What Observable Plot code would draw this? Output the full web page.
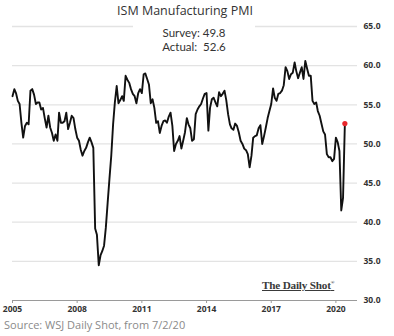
<!DOCTYPE html>
<html><head><meta charset="utf-8">
<script src="https://cdn.jsdelivr.net/npm/d3@7"></script>
<script src="https://cdn.jsdelivr.net/npm/@observablehq/plot@0.6"></script>
<style>
body{margin:0;background:#fff;}
#wrap{position:relative;width:394px;height:336px;font-family:"Open Sans",sans-serif;overflow:hidden;}
#note{position:absolute;left:133px;top:23px;width:122px;padding-top:3px;padding-bottom:2px;background:#fff;text-align:center;font-family:Lato,"Open Sans",sans-serif;font-size:11.5px;line-height:13.5px;color:#333;}
#logo{position:absolute;left:262px;top:279px;font-family:"Liberation Serif",serif;font-weight:bold;font-size:11.2px;color:#3a3a3a;text-decoration:underline;letter-spacing:-0.2px;}
#logo sup{font-size:5px;}
#source{position:absolute;left:4px;top:317px;font-size:11px;color:#8a8a8a;white-space:nowrap;}
</style></head><body>
<div id="wrap"><div id="chart"></div>
<div id="note">Survey: 49.8<br>Actual:&nbsp; 52.6</div>
<div id="logo">The Daily Shot<sup>®</sup></div>
<div id="source">Source: WSJ Daily Shot, from 7/2/20</div>
</div>
<script>
const title = "ISM Manufacturing PMI";
const years = [2005,2006,2007,2008,2009,2010,2011,2012,2013,2014,2015,2016,2017,2018,2019,2020];
const pmi2005 = [56.1,57.0,56.5,55.5,55.1,52.7,50.8,52.3,52.7,52.5,56.8,57.0];
const pmi2006 = [56.3,55.1,55.3,55.3,54.4,54.6,53.3,52.1,53.6,52.1,51.4,50.4];
const pmi2007 = [51.2,50.4,54.0,52.7,52.7,52.9,54.0,51.9,52.7,53.6,53.3,51.9];
const pmi2008 = [50.8,50.4,49.3,48.5,49.1,49.5,50.2,50.8,50.2,49.5,39.2,38.4];
const pmi2009 = [34.5,35.8,36.3,37.0,39.3,42.5,45.5,48.5,52.5,55.3,57.4,55.2];
const pmi2010 = [55.6,56.1,55.5,58.7,58.2,57.8,57.0,56.4,56.1,55.2,56.5,57.0];
const pmi2011 = [56.5,58.9,59.0,58.3,57.6,55.2,55.7,54.6,52.7,52.9,51.4,52.3];
const pmi2012 = [52.9,53.0,52.7,53.5,54.0,52.3,49.1,50.0,50.4,51.0,49.4,50.4];
const pmi2013 = [51.5,53.3,52.5,52.0,50.4,50.6,53.8,54.4,54.8,55.1,55.8,56.4];
const pmi2014 = [56.5,51.7,54.6,55.7,55.9,55.3,54.8,56.6,56.1,56.4,56.8,55.6];
const pmi2015 = [53.8,52.5,52.0,51.8,52.6,52.3,51.5,50.4,50.0,49.4,49.2,48.7];
const pmi2016 = [47.0,48.5,50.8,51.0,51.1,52.0,52.4,50.0,51.0,52.1,53.3,54.2];
const pmi2017 = [55.1,57.1,55.9,55.5,56.4,56.5,56.8,57.5,59.8,59.3,58.3,58.9];
const pmi2018 = [59.1,60.4,59.3,58.4,59.1,59.8,58.3,60.6,59.6,58.7,58.7,55.5];
const pmi2019 = [55.1,55.3,54.2,53.6,52.6,51.6,51.2,48.7,48.3,48.3,47.8,48.1];
const pmi2020 = [50.8,50.2,49.1,41.5,43.1,52.6];
const yTicks = [30,35,40,45,50,55,60,65];
const xTickYears = [2005,2008,2011,2014,2017,2020];

const series = [pmi2005,pmi2006,pmi2007,pmi2008,pmi2009,pmi2010,pmi2011,pmi2012,pmi2013,pmi2014,pmi2015,pmi2016,pmi2017,pmi2018,pmi2019,pmi2020];
const data = [];
years.forEach((yr, i) => series[i].forEach((v, m) => data.push({date: new Date(Date.UTC(yr, m, 1)), value: v})));
const last = data[data.length - 1];
const xTicks = xTickYears.map(y => new Date(Date.UTC(y, 0, 1)));

const chart = Plot.plot({
  width: 394, height: 315,
  marginLeft: 12, marginRight: 37, marginTop: 26, marginBottom: 15,
  style: {fontFamily: "Open Sans, sans-serif", background: "white", color: "#333", overflow: "visible"},
  x: {type: "utc", domain: [new Date(Date.UTC(2005,0,1)), new Date(Date.UTC(2021,0,1))]},
  y: {domain: [30, 65]},
  marks: [
    Plot.gridY(yTicks.filter(d => d > 30), {stroke: "#e3e3e3", strokeOpacity: 1, strokeWidth: 1.3}),
    Plot.ruleY([30], {stroke: "#9a9a9a", strokeWidth: 1.2}),
    Plot.axisY(yTicks, {anchor: "right", tickSize: 0, tickPadding: 6, tickFormat: d => d.toFixed(1), fontWeight: "bold", fontSize: 8.5, label: null}),
    Plot.axisX(xTicks, {tickSize: 3, stroke: "#9a9a9a", tickPadding: 2, tickFormat: d3.utcFormat("%Y"), fontWeight: "bold", fontSize: 8.5, label: null}),
    Plot.line(data, {x: "date", y: "value", stroke: "#111", strokeWidth: 1.9}),
    Plot.dot([last], {x: "date", y: "value", r: 2.6, fill: "#e8262b"}),
    Plot.text([title], {frameAnchor: "top", lineAnchor: "middle", dy: -16, fontSize: 12.5, fill: "#333"})
  ]
});
document.getElementById("chart").appendChild(chart);
</script>
</body></html>
